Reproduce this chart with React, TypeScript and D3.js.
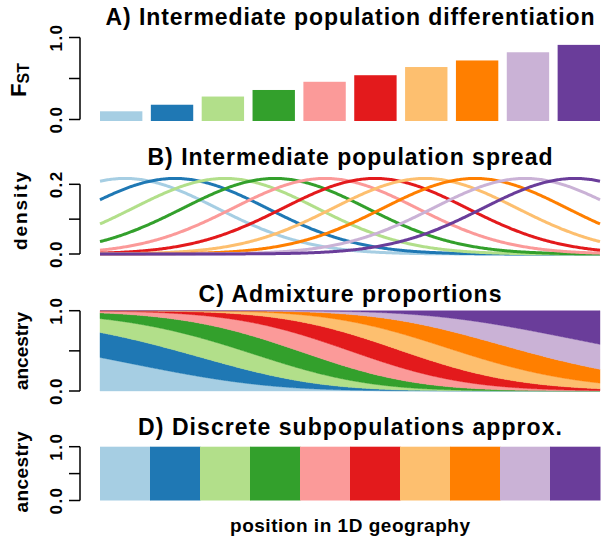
import * as d3 from "d3";
import { useEffect, useRef } from "react";

// ColorBrewer "Paired", one colour per subpopulation
const subpopColors = [
  "#A6CEE3", "#1F78B4", "#B2DF8A", "#33A02C", "#FB9A99",
  "#E31A1C", "#FDBF6F", "#FF7F00", "#CAB2D6", "#6A3D9A",
];
// A) FST of each intermediate subpopulation (read off the bars)
const fstValues = [0.1, 0.18, 0.28, 0.36, 0.46, 0.54, 0.64, 0.72, 0.82, 0.91];
// B) each subpopulation is a normal density centred on its 1D coordinate
const subpopCenters = [1, 2, 3, 4, 5, 6, 7, 8, 9, 10];
const spreadSigma = 1.84;
const geoRange: [number, number] = [0.5, 10.5];
const individualCount = 500;

const fstTicks = [0, 0.5, 1];
const fstTickLabels = ["0.0", "", "1.0"];
const densityTicks = [0, 0.1, 0.2];
const densityTickLabels = ["0.0", "", "0.2"];
const ancestryTicks = [0, 0.5, 1];
const ancestryTickLabels = ["0.0", "", "1.0"];

const panelTitles = [
  "A) Intermediate population differentiation",
  "B) Intermediate population spread",
  "C) Admixture proportions",
  "D) Discrete subpopulations approx.",
];
const xLabel = "position in 1D geography";

const FONT = "'Liberation Sans', Arial, Helvetica, sans-serif";

function App() {
  const svgRef = useRef<SVGSVGElement | null>(null);

  useEffect(() => {
    if (!svgRef.current) return;
    const width = 601;
    const height = 537;
    const left = 100;
    const right = 600;
    const axisX = 80;

    const svg = d3.select(svgRef.current)
      .attr("width", width)
      .attr("height", height);
    svg.selectAll("*").remove();

    const idx = d3.range(subpopColors.length);

    // scales for the four panels
    const yA = d3.scaleLinear().domain([0, 1]).range([119.5, 37.5]);
    const yB = d3.scaleLinear().domain([0, 0.2]).range([254, 184.3]);
    const yC = d3.scaleLinear().domain([0, 1]).range([391, 310.7]);
    const yD = d3.scaleLinear().domain([0, 1]).range([500.5, 446.7]);
    const xGeo = d3.scaleLinear().domain(geoRange).range([left, right]);

    const dnorm = (x: number, mu: number) =>
      Math.exp(-((x - mu) ** 2) / (2 * spreadSigma * spreadSigma)) /
      (spreadSigma * Math.sqrt(2 * Math.PI));

    // titles
    const titleY = [25, 165, 302, 435];
    const titleLen = [489, 405, 303, 424];
    panelTitles.forEach((t, i) => {
      svg.append("text")
        .attr("x", 350)
        .attr("y", titleY[i])
        .attr("text-anchor", "middle")
        .attr("font-family", FONT)
        .attr("font-weight", "bold")
        .attr("font-size", 23)
        .attr("textLength", titleLen[i])
        .attr("lengthAdjust", "spacing")
        .text(t);
    });

    // y axis drawer (R style: line between first and last tick, rotated labels)
    const drawAxis = (
      y: d3.ScaleLinear<number, number>,
      ticks: number[],
      labels: string[]
    ) => {
      const g = svg.append("g");
      g.append("line")
        .attr("x1", axisX).attr("x2", axisX)
        .attr("y1", y(ticks[0])).attr("y2", y(ticks[ticks.length - 1]))
        .attr("stroke", "#000").attr("stroke-width", 1.5);
      ticks.forEach((t, i) => {
        g.append("line")
          .attr("x1", axisX - 11).attr("x2", axisX)
          .attr("y1", y(t)).attr("y2", y(t))
          .attr("stroke", "#000").attr("stroke-width", 1.5);
        if (labels[i]) {
          g.append("text")
            .attr("transform", `translate(62,${y(t)}) rotate(-90)`)
            .attr("text-anchor", "middle")
            .attr("font-family", FONT)
            .attr("font-weight", "bold")
            .attr("font-size", 17)
            .attr("letter-spacing", 1.5)
            .text(labels[i]);
        }
      });
    };

    const yLabel = (text: string, cx: number, cy: number, len: number) => {
      svg.append("text")
        .attr("transform", `translate(${cx},${cy}) rotate(-90)`)
        .attr("text-anchor", "middle")
        .attr("font-family", FONT)
        .attr("font-weight", "bold")
        .attr("font-size", 19)
        .attr("textLength", len)
        .attr("lengthAdjust", "spacing")
        .text(text);
    };

    // ---- A) FST bars
    const xBand = d3.scaleBand<number>()
      .domain(idx)
      .range([left, right])
      .paddingInner(0.2 / 1.2)
      .paddingOuter(0);
    svg.append("g")
      .selectAll("rect")
      .data(fstValues)
      .enter()
      .append("rect")
      .attr("x", (_, i) => xBand(i) ?? 0)
      .attr("width", xBand.bandwidth())
      .attr("y", d => yA(d))
      .attr("height", d => yA(0) - yA(d) + 1.5)
      .attr("fill", (_, i) => subpopColors[i]);
    drawAxis(yA, fstTicks, fstTickLabels);
    const fst = svg.append("text")
      .attr("transform", `translate(26,80) rotate(-90)`)
      .attr("text-anchor", "middle")
      .attr("font-family", FONT)
      .attr("font-weight", "bold");
    fst.append("tspan").attr("font-size", 22).text("F");
    fst.append("tspan").attr("font-size", 16).attr("dy", 3).text("ST");

    // ---- B) densities
    const xs = d3.range(geoRange[0], geoRange[1] + 1e-9, (geoRange[1] - geoRange[0]) / 400);
    const gB = svg.append("g");
    subpopCenters.forEach((mu, i) => {
      const line = d3.line<number>()
        .x(x => xGeo(x))
        .y(x => yB(dnorm(x, mu)));
      gB.append("path")
        .attr("d", line(xs))
        .attr("fill", "none")
        .attr("stroke", subpopColors[i])
        .attr("stroke-width", 3);
    });
    drawAxis(yB, densityTicks, densityTickLabels);
    yLabel("density", 27, 211, 78);

    // ---- C) admixture proportions (normalised densities, one bar per individual)
    const barW = (geoRange[1] - geoRange[0]) / individualCount;
    const rows = d3.range(individualCount + 1).map(j => {
      const x0 = geoRange[0] + j * barW;
      const xc = x0 + barW / 2;
      const dens = subpopCenters.map(mu => dnorm(Math.min(xc, geoRange[1]), mu));
      const tot = d3.sum(dens);
      const row: Record<string, number> = { x: x0 };
      dens.forEach((d, k) => { row[`q${k}`] = d / tot; });
      return row;
    });
    const stack = d3.stack<Record<string, number>>().keys(idx.map(k => `q${k}`));
    const series = stack(rows);
    const area = d3.area<d3.SeriesPoint<Record<string, number>>>()
      .x(d => xGeo(d.data.x))
      .y0(d => yC(d[0]))
      .y1(d => yC(d[1]))
      .curve(d3.curveStepAfter);
    const gC = svg.append("g");
    series.forEach((s, k) => {
      gC.append("path")
        .attr("d", area(s))
        .attr("fill", subpopColors[k])
        .attr("stroke", subpopColors[k])
        .attr("stroke-width", 0.4);
    });
    drawAxis(yC, ancestryTicks, ancestryTickLabels);
    yLabel("ancestry", 28, 351, 78);

    // ---- D) discrete blocks
    const xBlock = d3.scaleBand<number>().domain(idx).range([left, right]);
    svg.append("g")
      .selectAll("rect")
      .data(idx)
      .enter()
      .append("rect")
      .attr("x", d => xBlock(d) ?? 0)
      .attr("width", xBlock.bandwidth() + 0.5)
      .attr("y", yD(1))
      .attr("height", yD(0) - yD(1))
      .attr("fill", d => subpopColors[d]);
    drawAxis(yD, ancestryTicks, ancestryTickLabels);
    yLabel("ancestry", 28, 472, 81);

    // x label
    svg.append("text")
      .attr("x", 350)
      .attr("y", 532)
      .attr("text-anchor", "middle")
      .attr("font-family", FONT)
      .attr("font-weight", "bold")
      .attr("font-size", 19)
      .attr("textLength", 240)
      .attr("lengthAdjust", "spacing")
      .text(xLabel);
  }, []);

  return (
    <svg
      ref={svgRef}
      style={{ position: "absolute", left: 0, top: 0, background: "#fff" }}
    />
  );
}

export default App;
